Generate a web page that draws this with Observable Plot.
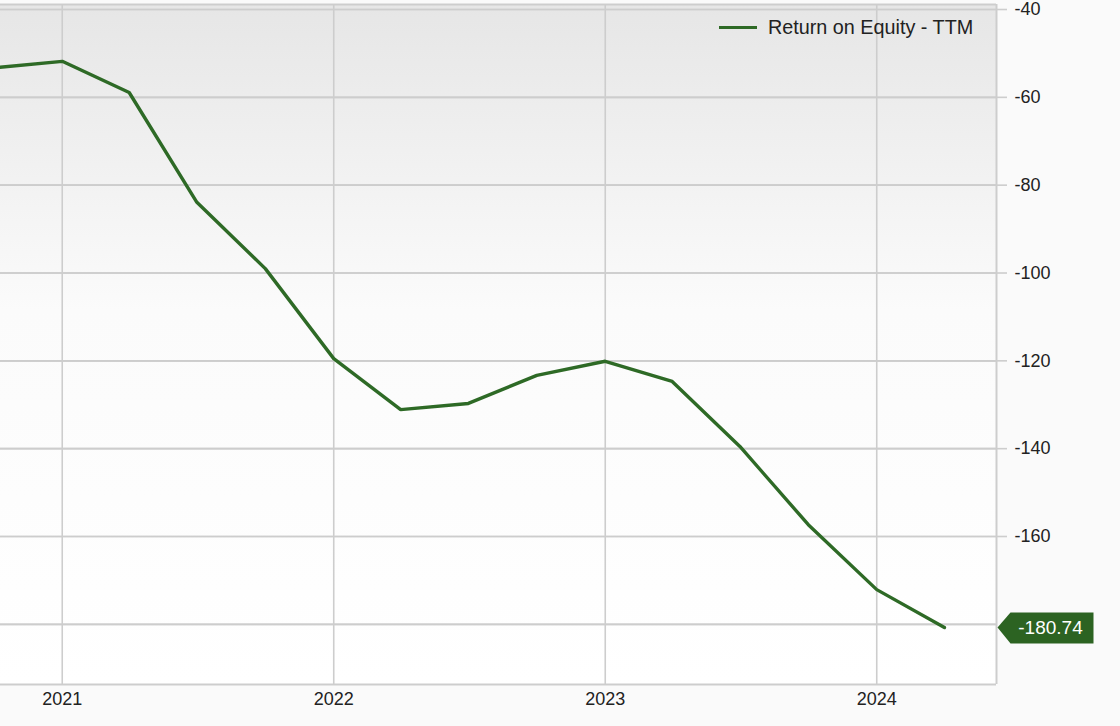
<!DOCTYPE html>
<html>
<head>
<meta charset="utf-8">
<script src="https://cdn.jsdelivr.net/npm/d3@7"></script>
<script src="https://cdn.jsdelivr.net/npm/@observablehq/plot@0.6"></script>
<style>
  html, body { margin: 0; padding: 0; background: #fafafa; }
  #wrap { position: relative; width: 1120px; height: 726px; overflow: hidden; font-family: "Liberation Sans", Arial, Helvetica, sans-serif; }
  #legend { position: absolute; left: 719px; top: 16px; display: flex; align-items: center; font-size: 19.8px; color: #222; }
  #legend .sw { width: 38px; height: 3px; background: #2e6a26; margin-right: 11px; }
</style>
</head>
<body>
<div id="wrap">
  <div id="chart"></div>
  <div id="legend"><span class="sw"></span><span>Return on Equity - TTM</span></div>
</div>
<script>
// Data: quarterly Return on Equity - TTM (%)
const dates = ["2020-10-01","2021-01-01","2021-04-01","2021-07-01","2021-10-01",
               "2022-01-01","2022-04-01","2022-07-01","2022-10-01",
               "2023-01-01","2023-04-01","2023-07-01","2023-10-01",
               "2024-01-01","2024-04-01"];
const roe = [-53.3, -51.8, -58.9, -83.9, -99.0,
             -119.5, -131.1, -129.7, -123.3,
             -120.1, -124.7, -139.5, -157.3,
             -172.1, -180.74];
const yTicks = [-40, -60, -80, -100, -120, -140, -160, -180];
const yLabelTicks = [-40, -60, -80, -100, -120, -140, -160];
const xTickYears = ["2021-01-01", "2022-01-01", "2023-01-01", "2024-01-01"];
const seriesName = "Return on Equity - TTM";
const lastLabel = "-180.74";

const data = dates.map((d, i) => ({date: new Date(d + "T00:00:00"), value: roe[i]}));
const xTicks = xTickYears.map(d => new Date(d + "T00:00:00"));
const last = data[data.length - 1];

const green = "#2e6a26";
const xDomain = [new Date("2020-10-10T00:00:00"), new Date("2024-06-10T00:00:00")];
const yDomain = [-193.7, -38.86];

// flag-shaped value badge symbol, drawn to the right of the anchor point
const flag = {
  draw(ctx) {
    ctx.moveTo(1, 0);
    ctx.lineTo(14, -15);
    ctx.lineTo(97, -15);
    ctx.lineTo(97, 16);
    ctx.lineTo(14, 16);
    ctx.closePath();
  }
};

const chart = Plot.plot({
  width: 1120,
  height: 726,
  marginLeft: 0,
  marginTop: 4,
  marginRight: 124,
  marginBottom: 42,
  style: {background: "#fafafa", fontFamily: "'Liberation Sans', Arial, Helvetica, sans-serif", color: "#222"},
  x: {type: "time", domain: xDomain},
  y: {domain: yDomain},
  marks: [
    Plot.frame({fill: "url(#bggrad)", stroke: "none", insetLeft: -2}),
    Plot.gridX(xTicks, {stroke: "#cdcdcd", strokeOpacity: 1, strokeWidth: 1.6}),
    Plot.gridY(yTicks, {stroke: "#cdcdcd", strokeOpacity: 1, strokeWidth: 1.6}),
    Plot.tickY(yTicks, {y: d => d, frameAnchor: "right", stroke: "#cdcdcd", strokeWidth: 1.6}),
    Plot.axisY(yLabelTicks, {anchor: "right", tickSize: 10, tickPadding: 8, fontSize: 18, stroke: "#cdcdcd", strokeWidth: 1.6, fill: "#222", label: null, tickFormat: d => String(d)}),
    Plot.axisX(xTicks, {anchor: "bottom", tickSize: 0, tickPadding: 8, fontSize: 18, fill: "#222", label: null, tickFormat: d => String(d.getFullYear())}),
    Plot.ruleY([yDomain[1]], {stroke: "#cdcdcd", strokeWidth: 2, insetLeft: -2}),
    Plot.ruleY([yDomain[0]], {stroke: "#cdcdcd", strokeWidth: 2, insetLeft: -2}),
    Plot.ruleX([xDomain[1]], {stroke: "#cdcdcd", strokeWidth: 2}),
    Plot.line(data, {x: "date", y: "value", stroke: green, strokeWidth: 3.4, clip: true, strokeLinejoin: "miter"}),
    Plot.dot([last], {y: "value", frameAnchor: "right", symbol: flag, r: 5, fill: "#2c6322", stroke: "none"}),
    Plot.text([last], {y: "value", frameAnchor: "right", dx: 54, text: () => lastLabel, fill: "white", fontSize: 19, textAnchor: "middle"})
  ]
});

// gradient background for plot area
const ns = "http://www.w3.org/2000/svg";
const defs = document.createElementNS(ns, "defs");
const grad = document.createElementNS(ns, "linearGradient");
grad.setAttribute("id", "bggrad");
grad.setAttribute("x1", "0"); grad.setAttribute("y1", "0");
grad.setAttribute("x2", "0"); grad.setAttribute("y2", "1");
[["0%", "#e6e6e6"], ["45%", "#fbfbfb"], ["100%", "#ffffff"]].forEach(([o, c]) => {
  const s = document.createElementNS(ns, "stop");
  s.setAttribute("offset", o); s.setAttribute("stop-color", c);
  grad.appendChild(s);
});
defs.appendChild(grad);
chart.insertBefore(defs, chart.firstChild);

document.getElementById("chart").appendChild(chart);
</script>
</body>
</html>
